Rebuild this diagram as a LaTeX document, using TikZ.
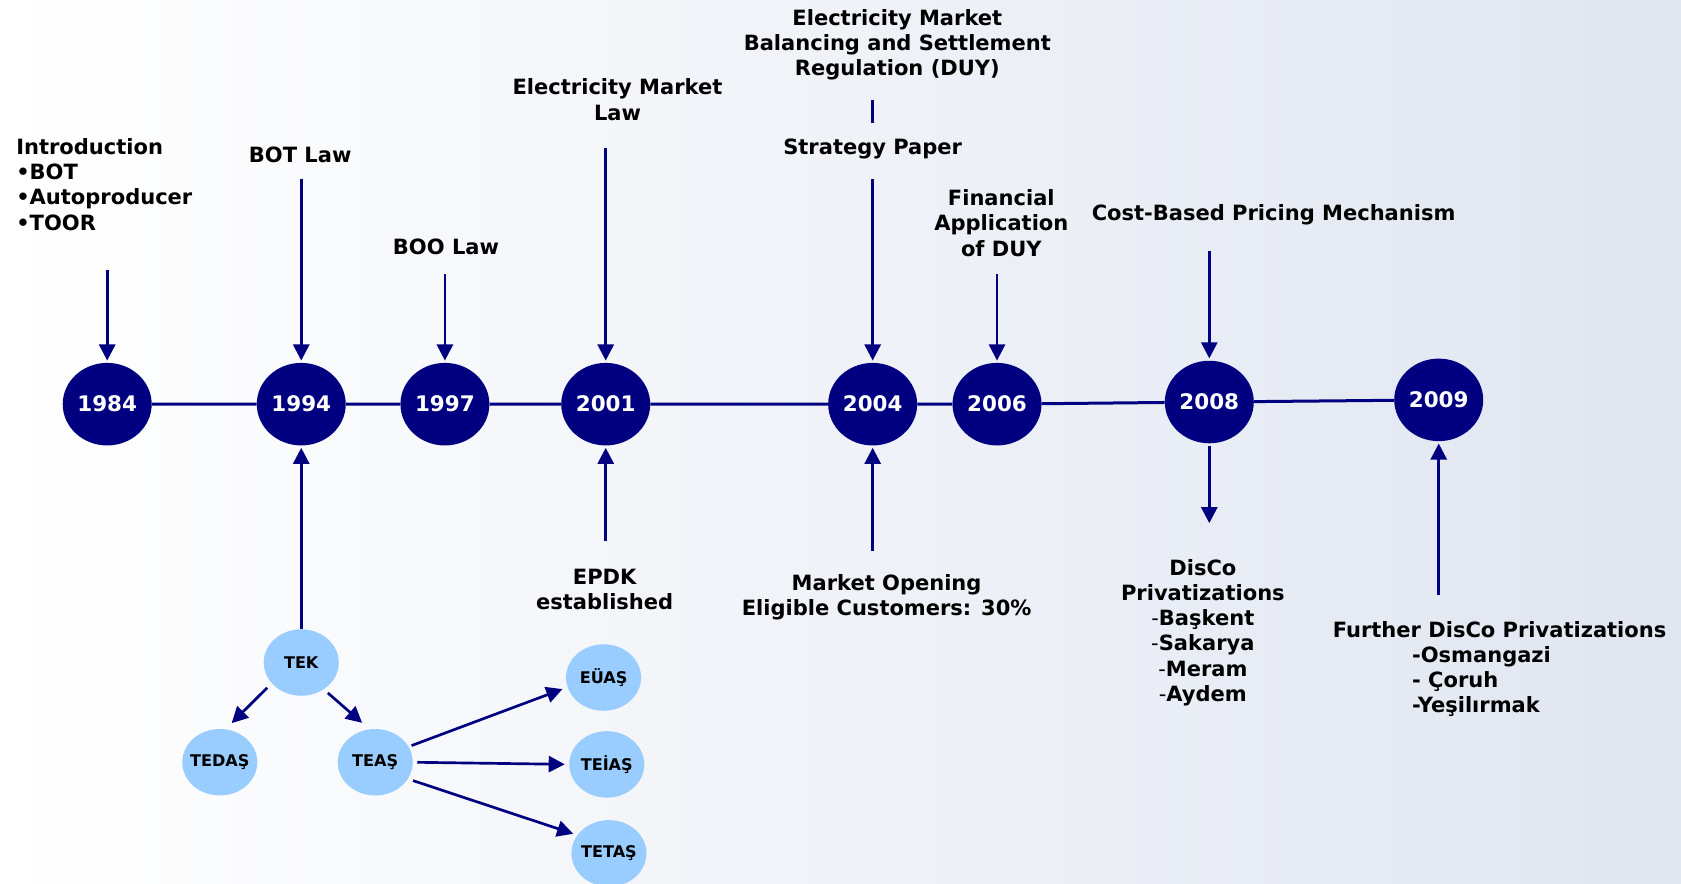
\documentclass[tikz,border=0pt]{standalone}
\usepackage{fontspec}
\setmainfont{DejaVu Sans}
\usetikzlibrary{arrows.meta, shapes.geometric, positioning}

\definecolor{tlnavy}{RGB}{0,0,128}
\definecolor{bubble}{RGB}{153,204,255}
\definecolor{bgright}{RGB}{224,229,240}

\tikzset{
  year/.style={ellipse, fill=tlnavy, text=white, font=\bfseries\fontsize{20}{24}\selectfont,
    minimum width=83pt, minimum height=77pt, inner sep=-2pt},
  unit/.style={ellipse, fill=bubble, font=\bfseries\fontsize{15}{18}\selectfont,
    minimum width=70pt, minimum height=62pt, inner sep=-4pt},
  event/.style={align=center, font=\bfseries\fontsize{19.6}{23.5}\selectfont, inner sep=0pt},
  tl/.style={tlnavy, line width=2.8pt},
  arr/.style={tlnavy, line width=2.5pt, -{Triangle[width=15pt,length=15pt]}, shorten >=2pt},
}

\begin{document}
\begin{tikzpicture}[x=1pt, y=-1pt]
\useasboundingbox (0,0) rectangle (1568,824);
\shade[left color=white, right color=bgright] (0,0) rectangle (1568,824);

% years on the time line
\node[year] (y1984) at (100,377) {1984};
\node[year] (y1994) at (281,377) {1994};
\node[year] (y1997) at (415,377) {1997};
\node[year] (y2001) at (565,377) {2001};
\node[year] (y2004) at (814,377) {2004};
\node[year] (y2006) at (930,377) {2006};
\node[year] (y2008) at (1128,375) {2008};
\node[year] (y2009) at (1342,373) {2009};

\draw[tl] (y1984) -- (y1994) -- (y1997) -- (y2001) -- (y2004) -- (y2006) -- (y2008) -- (y2009);

% events above
\node[event, align=left, anchor=west] (tIntro) at (15,172) {Introduction\\•BOT\\•Autoproducer\\•TOOR};
\node[event] (tBOT) at (280,144) {BOT Law};
\node[event] (tBOO) at (416,230) {BOO Law};
\node[event] (tEML) at (576,93) {Electricity Market\\Law};
\node[event] (tDUY) at (837,42) {Electricity Market\\Balancing and Settlement\\Regulation (DUY)};
\node[event] (tStrat) at (814,139) {Strategy Paper};
\node[event] (tFin) at (934,208) {Financial\\Application\\of DUY};
\node[event] (tCost) at (1188,200) {Cost-Based Pricing Mechanism};

% events below
\node[event] (tEPDK) at (564,550) {EPDK\\established};
\node[event] (tOpen) at (827,557) {Market Opening\\Eligible Customers: 30\%};
\node[event] (tDisCo) at (1122,590) {DisCo\\Privatizations\\{\mdseries-}Başkent\\{\mdseries-}Sakarya\\{\mdseries-}Meram\\{\mdseries-}Aydem};
\node[event, align=left, anchor=west] (tFurther) at (1243,624) {Further DisCo Privatizations\\
  \hspace*{74pt}-Osmangazi\\\hspace*{74pt}- Çoruh\\\hspace*{74pt}-Yeşilırmak};

% arrow ends
\coordinate (s84) at (100,252);
\coordinate (s94) at (281,167);
\coordinate (s97) at (415,256);
\coordinate (s01) at (565,138);
\coordinate (s04) at (814,167);
\coordinate (s06) at (930,256);
\coordinate (s08) at (1128,234);
\coordinate (d1) at (814,93);
\coordinate (d2) at (814,115);
\coordinate (b01) at (565,505);
\coordinate (b04) at (814,514);
\coordinate (b08) at (1128,490);
\coordinate (b09) at (1342,555);

\draw[arr] (s84) -- (y1984);
\draw[arr] (s94) -- (y1994);
\draw[arr] (s97) -- (y1997);
\draw[arr] (s01) -- (y2001);
\draw[arr] (s04) -- (y2004);
\draw[arr] (s06) -- (y2006);
\draw[arr] (s08) -- (y2008);
\draw[tlnavy, line width=2.5pt] (d1) -- (d2);

\draw[arr] (b01) -- (y2001);
\draw[arr] (b04) -- (y2004);
\draw[arr, shorten <=2pt] (y2008) -- (b08);
\draw[arr] (b09) -- (y2009);

% TEK and its successors
\node[unit] (tek) at (281,618) {TEK};
\node[unit] (tedas) at (205,711) {TEDAŞ};
\node[unit] (teas) at (350,711) {TEAŞ};
\node[unit] (euas) at (563,632) {EÜAŞ};
\node[unit] (teias) at (566,713) {TEİAŞ};
\node[unit] (tetas) at (568,796) {TETAŞ};

\draw[arr] (tek) -- (y1994);
\draw[arr, shorten <=6pt, shorten >=8pt] (tek.215) -- (tedas.80);
\draw[arr, shorten <=5pt, shorten >=9pt] (tek.-50) -- (teas.100);
\draw[arr, shorten <=3pt, shorten >=5pt] (teas.25) -- (euas.195);
\draw[arr, shorten <=4pt, shorten >=4pt] (teas.east) -- (teias.west);
\draw[arr, shorten <=5pt, shorten >=4pt] (teas.-27) -- (tetas.150);
\end{tikzpicture}
\end{document}
